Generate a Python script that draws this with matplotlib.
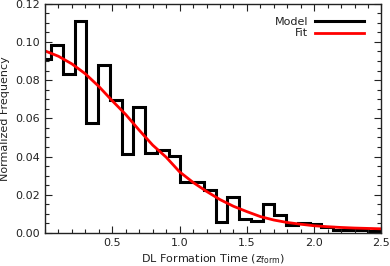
import numpy as np
import matplotlib
matplotlib.use('Agg')
import matplotlib.pyplot as plt
from matplotlib.ticker import MultipleLocator, FixedLocator

plt.rcParams['font.family'] = ['DejaVu Sans']
plt.rcParams['font.size'] = 8

# histogram of the model (normalized frequency per bin)
bin_start = -0.042
bin_width = 0.0873
model_freq = [0.091, 0.0985, 0.083, 0.111, 0.0578, 0.0878, 0.0696, 0.0414, 0.066,
              0.0417, 0.0435, 0.0405, 0.0267, 0.0267, 0.0227, 0.0059, 0.0189, 0.0071,
              0.0064, 0.0154, 0.0094, 0.0042, 0.0054, 0.0047, 0.0030, 0.0018, 0.0018,
              0.0018, 0.0008]

# fit curve
fit_x = [0.0, 0.1, 0.2, 0.3, 0.4, 0.5, 0.6, 0.7, 0.8, 0.9, 1.0, 1.1, 1.2, 1.3,
         1.4, 1.5, 1.6, 1.7, 1.8, 1.9, 2.0, 2.1, 2.2, 2.3, 2.4, 2.5]
fit_y = [0.0953, 0.0925, 0.0885, 0.0833, 0.0767, 0.0692, 0.0620, 0.0538, 0.0460,
         0.0397, 0.0320, 0.0265, 0.0218, 0.0175, 0.0140, 0.0112, 0.0086, 0.0068,
         0.0055, 0.0046, 0.0038, 0.0033, 0.0029, 0.0026, 0.0024, 0.0022]

x_ticks = [0.5, 1.0, 1.5, 2.0, 2.5]
y_ticks = [0.00, 0.02, 0.04, 0.06, 0.08, 0.10, 0.12]

edges = bin_start + bin_width * np.arange(len(model_freq) + 1)

fig = plt.figure(figsize=(3.9, 2.66), dpi=100)
ax = fig.add_axes([0.1154, 0.124, 0.8628, 0.862])

ax.stairs(model_freq, edges, color='black', lw=2.2, baseline=0, label='Model')
ax.plot(fit_x, fit_y, color='red', lw=2.0, label='Fit')

ax.set_xlim(0, 2.5)
ax.set_ylim(0, 0.12)
ax.xaxis.set_major_locator(FixedLocator(x_ticks))
ax.xaxis.set_minor_locator(MultipleLocator(0.1))
ax.yaxis.set_major_locator(FixedLocator(y_ticks))
ax.yaxis.set_minor_locator(MultipleLocator(0.005))
ax.set_xticklabels(['%.1f' % t for t in x_ticks])
ax.set_yticklabels(['%.2f' % t for t in y_ticks])
ax.tick_params(which='both', direction='in', top=True, right=True, color='#222222', labelcolor='#222222')
ax.tick_params(which='major', length=5, width=0.8)
ax.tick_params(which='minor', length=3, width=0.8)
for s in ax.spines.values():
    s.set_linewidth(1.0)
    s.set_color('#222222')

ax.set_xlabel('DL Formation Time (z$_{\\mathrm{form}}$)', color='#222222', labelpad=3)
ax.set_ylabel('Normalized Frequency', color='#222222', labelpad=4)

leg = ax.legend(loc='upper right', bbox_to_anchor=(0.96, 0.96), frameon=False,
                markerfirst=False, handlelength=4.4, handletextpad=0.6,
                labelspacing=0.1, fontsize=8, borderaxespad=0)
for t in leg.get_texts():
    t.set_color('#222222')

fig.savefig('out.png', dpi=100)
